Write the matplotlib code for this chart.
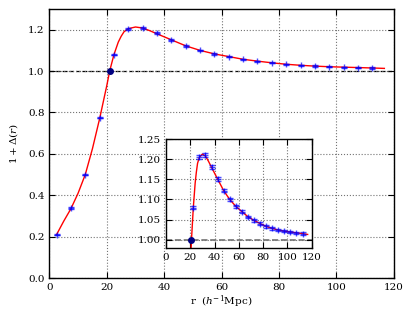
import matplotlib
matplotlib.use("Agg")
import matplotlib.pyplot as plt
import numpy as np

plt.rcParams['font.family'] = ['DejaVu Serif']
plt.rcParams['mathtext.fontset'] = 'dejavuserif'

# measured points
r = [2.5, 7.5, 12.5, 17.5, 22.5, 27.5, 32.5, 37.5, 42.5, 47.5, 52.5, 57.5,
     62.5, 67.5, 72.5, 77.5, 82.5, 87.5, 92.5, 97.5, 102.5, 107.5, 112.5]
delta = [0.21, 0.34, 0.50, 0.775, 1.08, 1.205, 1.21, 1.182, 1.151, 1.122, 1.100, 1.083,
         1.070, 1.057, 1.048, 1.040, 1.033, 1.028, 1.024, 1.021, 1.019, 1.017, 1.015]
err = [0.004, 0.004, 0.004, 0.004, 0.004, 0.005, 0.005, 0.005, 0.004, 0.004, 0.004, 0.004,
       0.003, 0.003, 0.003, 0.003, 0.003, 0.003, 0.003, 0.003, 0.003, 0.003, 0.003]

# smooth model curve
r_curve = [2.5, 5, 7.5, 10, 12.5, 15, 17.5, 20, 21, 22.5, 24, 25, 26, 27.5, 30, 32.5, 35,
           37.5, 42.5, 47.5, 52.5, 57.5, 62.5, 67.5, 72.5, 77.5, 82.5, 87.5, 92.5,
           97.5, 102.5, 107.5, 112.5, 116.7]
d_curve = [0.21, 0.275, 0.335, 0.41, 0.50, 0.625, 0.77, 0.93, 1.0, 1.08, 1.14, 1.168, 1.19,
           1.205, 1.213, 1.208, 1.195, 1.18, 1.151, 1.122, 1.100, 1.083, 1.070, 1.057,
           1.048, 1.040, 1.033, 1.028, 1.024, 1.021, 1.019, 1.017, 1.015, 1.013]

r0 = 21.0
d0 = 1.0


def draw(ax, lw_ref, ref_color):
    ax.axhline(1.0, color=ref_color, ls='--', lw=lw_ref, zorder=1)
    ax.plot(r_curve, d_curve, color='red', lw=1.0, zorder=2)
    ax.errorbar(r, delta, yerr=err, fmt='+', color='blue', ms=5, mew=1.0,
                elinewidth=0.8, capsize=2, alpha=0.7, zorder=3)
    ax.plot([r0], [d0], 'o', color='navy', ms=4, zorder=4)
    ax.grid(True, color='0.45', ls=':', lw=0.8)
    ax.tick_params(direction='in', top=True, right=True, labelsize=7.5, length=4)
    for s in ax.spines.values():
        s.set_linewidth(1.0)


fig = plt.figure(figsize=(4.15, 3.1), dpi=100)
ax = fig.add_axes([0.119, 0.103, 0.830, 0.868])
draw(ax, 0.9, 'black')
ax.set_xlim(0, 120)
ax.set_ylim(0, 1.3)
ax.set_xticks(np.arange(0, 121, 20))
ax.set_yticks(np.arange(0, 1.21, 0.2))
ax.set_xlabel(r'r  ($h^{-1}$Mpc)', fontsize=7.5, labelpad=1)
ax.set_ylabel(r'$1+\Delta(r)$', fontsize=7.5, labelpad=6)

ins = fig.add_axes([0.400, 0.201, 0.351, 0.350])
draw(ins, 1.2, '0.45')
ins.set_xlim(0, 120)
ins.set_ylim(0.98, 1.25)
ins.set_xticks(np.arange(0, 121, 20))
ins.set_yticks(np.arange(1.0, 1.251, 0.05))

fig.savefig('out.png', dpi=100, facecolor='white')
